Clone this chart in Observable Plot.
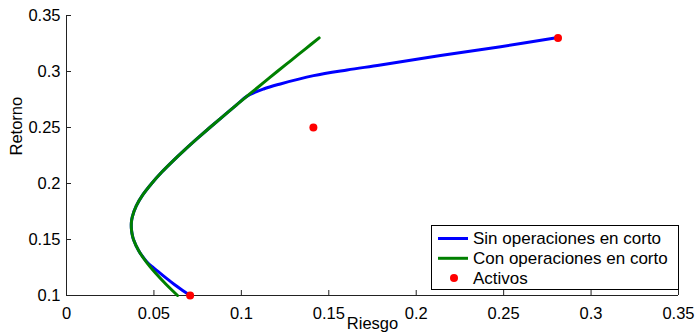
<!DOCTYPE html>
<html>
<head>
<meta charset="utf-8">
<script src="https://cdn.jsdelivr.net/npm/d3@7"></script>
<script src="https://cdn.jsdelivr.net/npm/@observablehq/plot@0.6"></script>
<style>
  html, body { margin: 0; padding: 0; background: #fff; }
  #chart { position: relative; width: 696px; height: 334px; overflow: hidden; }
</style>
</head>
<body>
<div id="chart"></div>
<script>
// Series names
const seriesNames = ["Sin operaciones en corto", "Con operaciones en corto", "Activos"];
const seriesColors = ["#0000ff", "#008000", "#ff0000"];

// Blue: frontier without short selling (riesgo, retorno)
const blueRetorno = [0.10, 0.105, 0.11, 0.115, 0.12, 0.125, 0.13, 0.14, 0.15, 0.155, 0.16, 0.165, 0.17, 0.18, 0.19, 0.20, 0.21, 0.22, 0.23, 0.24, 0.25, 0.26, 0.27, 0.278, 0.2844, 0.2889, 0.2963, 0.3014, 0.3058, 0.3143, 0.3221, 0.3304];
const blueRiesgo  = [0.0707, 0.0660, 0.0615, 0.0574, 0.0535, 0.0495, 0.0460, 0.0413, 0.0383, 0.0375, 0.0371, 0.0371, 0.0376, 0.0399, 0.0437, 0.0487, 0.0544, 0.0608, 0.0676, 0.0747, 0.0820, 0.0895, 0.0971, 0.1033, 0.1127, 0.1223, 0.1413, 0.1605, 0.1796, 0.2139, 0.2483, 0.2811];

// Green: frontier with short selling
const greenRetorno = [0.10, 0.11, 0.12, 0.13, 0.14, 0.15, 0.155, 0.16, 0.165, 0.17, 0.18, 0.19, 0.20, 0.21, 0.22, 0.23, 0.24, 0.25, 0.26, 0.27, 0.28, 0.29, 0.30, 0.31, 0.32, 0.33];
const greenRiesgo  = [0.0635, 0.0569, 0.0509, 0.0456, 0.0413, 0.0383, 0.0375, 0.0371, 0.0371, 0.0376, 0.0399, 0.0437, 0.0487, 0.0544, 0.0608, 0.0676, 0.0747, 0.0820, 0.0895, 0.0971, 0.1048, 0.1127, 0.1205, 0.1285, 0.1365, 0.1445];

// Assets
const activosRiesgo  = [0.0707, 0.1412, 0.2811];
const activosRetorno = [0.100, 0.250, 0.330];

// Ticks
const xTicks = [0, 0.05, 0.1, 0.15, 0.2, 0.25, 0.3, 0.35];
const yTicks = [0.1, 0.15, 0.2, 0.25, 0.3, 0.35];
const xLabel = "Riesgo";
const yLabel = "Retorno";

const blue = blueRetorno.map((r, i) => ({x: blueRiesgo[i], y: r}));
const green = greenRetorno.map((r, i) => ({x: greenRiesgo[i], y: r}));
const activos = activosRetorno.map((r, i) => ({x: activosRiesgo[i], y: r}));

const W = 696, H = 334;
const mL = 66, mR = 18, mT = 15, mB = 39;
const innerW = W - mL - mR, innerH = H - mT - mB;
const axisColor = "#222";
const font = "'Liberation Sans', Arial, Helvetica, sans-serif";

const plot = Plot.plot({
  width: W, height: H,
  marginLeft: mL, marginRight: mR, marginTop: mT, marginBottom: mB,
  style: {fontFamily: font, fontSize: "16.5px", color: "#000", background: "#fff", overflow: "visible"},
  x: {domain: [0, 0.35]},
  y: {domain: [0.1, 0.35]},
  marks: [
    Plot.axisX({ticks: xTicks, tickFormat: d => String(d), tickSize: 0, tickPadding: 12, label: null, fontSize: 16.5}),
    Plot.axisY({ticks: yTicks, tickFormat: d => String(d), tickSize: 0, tickPadding: 6, label: null, fontSize: 16.5}),
    Plot.tickX(xTicks, {x: d => d, insetTop: innerH - 5, stroke: axisColor}),
    Plot.tickY(yTicks, {y: d => d, insetRight: innerW - 5, stroke: axisColor}),
    Plot.ruleX([0], {stroke: axisColor}),
    Plot.ruleY([0.1], {stroke: axisColor}),
    Plot.line(blue, {x: "x", y: "y", stroke: seriesColors[0], strokeWidth: 3, curve: "catmull-rom"}),
    Plot.line(green, {x: "x", y: "y", stroke: seriesColors[1], strokeWidth: 3, curve: "catmull-rom"}),
    Plot.dot(activos, {x: "x", y: "y", r: 4, fill: seriesColors[2], stroke: null}),
    Plot.text([xLabel], {frameAnchor: "bottom", dy: 33, fontSize: 16.5}),
    Plot.text([yLabel], {frameAnchor: "left", dx: -50, rotate: -90, fontSize: 16.5})
  ]
});

document.getElementById("chart").appendChild(plot);

// Legend inside the plot (drawn in the SVG)
const svg = d3.select(plot);
const lg = svg.append("g").attr("font-family", font).attr("font-size", 17).attr("text-anchor", "start");
lg.append("rect").attr("x", 431.5).attr("y", 225.5).attr("width", 247).attr("height", 64)
  .attr("fill", "#fff").attr("stroke", "#000").attr("stroke-width", 1);
seriesNames.forEach((name, i) => {
  const cy = 238.5 + i * 19.8;
  if (i < 2) {
    lg.append("line").attr("x1", 438).attr("x2", 468).attr("y1", cy).attr("y2", cy)
      .attr("stroke", seriesColors[i]).attr("stroke-width", 3);
  } else {
    lg.append("circle").attr("cx", 454).attr("cy", cy).attr("r", 4).attr("fill", seriesColors[i]);
  }
  lg.append("text").attr("x", 473).attr("y", cy).attr("dy", "0.35em").attr("fill", "#000")
    .attr("text-anchor", "start").text(name);
});
</script>
</body>
</html>
